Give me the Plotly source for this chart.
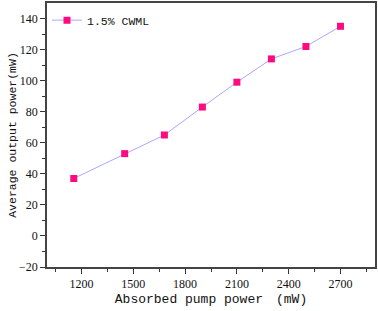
import plotly.graph_objects as go

pump_power = [1155, 1450, 1680, 1900, 2100, 2300, 2500, 2700]
output_power = [37, 53, 65, 83, 99, 114, 122, 135]
series_name = "1.5% CWML"
x_ticks = [1200, 1500, 1800, 2100, 2400, 2700]
y_ticks = [-20, 0, 20, 40, 60, 80, 100, 120, 140]

mono = "Liberation Mono, Courier New, monospace"
serif = "Liberation Serif, Times New Roman, serif"

fig = go.Figure()
fig.add_trace(go.Scatter(
    x=pump_power, y=output_power, name=series_name,
    mode="lines+markers",
    line=dict(color="#a8a8ff", width=1),
    marker=dict(symbol="square", size=7, color="#ff0a80"),
))

axis_common = dict(
    automargin=False,
    showline=True, linecolor="#444444", linewidth=1.5, mirror=True,
    showgrid=False, zeroline=False,
    ticks="outside", ticklen=5, tickwidth=1, tickcolor="#333333",
    tickfont=dict(family=serif, size=12, color="#111111"),
    minor=dict(ticks="outside", ticklen=3, tickcolor="#333333"),
)

fig.update_layout(
    width=378, height=311,
    margin=dict(l=47, r=3, t=3, b=44),
    paper_bgcolor="white", plot_bgcolor="white",
    showlegend=True,
    legend=dict(x=0.0, y=0.99, xanchor="left", yanchor="top",
                bgcolor="rgba(0,0,0,0)",
                font=dict(family=mono, size=11.5, color="#111111")),
    xaxis=dict(range=[1000, 2900], tickvals=x_ticks,
               title=dict(text="Absorbed pump power\u3000(mW)",
                          font=dict(family=mono, size=13, color="#111111"),
                          standoff=4),
               **axis_common),
    yaxis=dict(range=[-20, 150], tickvals=y_ticks,
               title=dict(text="Average output power(mW)",
                          font=dict(family=mono, size=11.5, color="#111111"),
                          standoff=0),
               **axis_common),
)
fig.update_xaxes(minor=dict(tickvals=[1050 + 300 * i for i in range(7)]))
fig.update_yaxes(minor=dict(tickvals=[-10 + 20 * i for i in range(8)]))

fig.write_html("out.html", config={"displayModeBar": False},
               post_script="document.body.style.margin='0';document.body.style.overflow='hidden';")
